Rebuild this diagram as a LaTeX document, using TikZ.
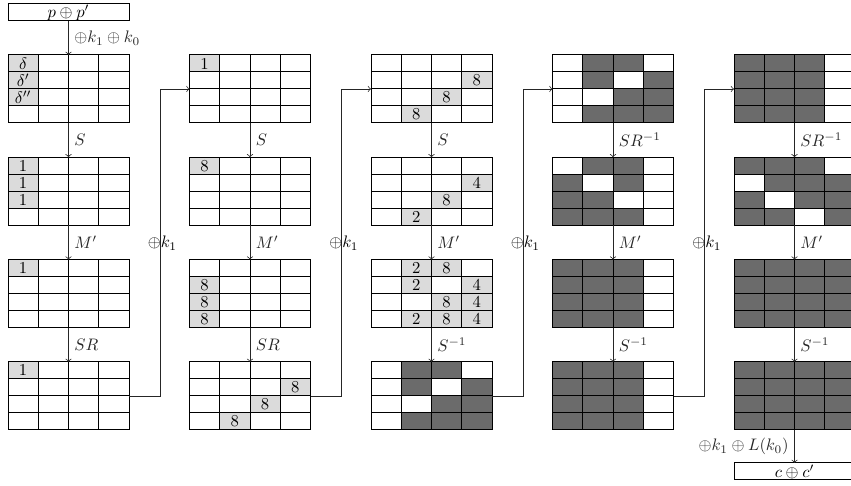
\documentclass[tikz,border=0pt]{standalone}
\usetikzlibrary{calc}
\tikzset{
  gridbox/.style={minimum width=72.6pt, minimum height=40.8pt, inner sep=0pt, outer sep=0pt},
  lcell/.style={fill=black!14, minimum width=18.15pt, minimum height=10.2pt, inner sep=0pt, outer sep=0pt},
  dcell/.style={fill=black!58},
  gline/.style={line width=0.6pt, black},
  conn/.style={->, line width=0.45pt, black!85},
  lab/.style={inner sep=3.3pt},
  klab/.style={inner sep=0pt, anchor=west},
  valbox/.style={draw, line width=0.6pt, minimum width=72.6pt, minimum height=10.2pt, inner sep=0pt, outer sep=0pt},
}
\newcommand{\lc}[4]{\node[lcell] (#1c#2#3) at ($(#1.north west)+(#3*30.25+15.125,#2*17+8.5)$) {#4};}
\newcommand{\dc}[3]{\fill[dcell] ($(#1.north west)+(#3*30.25,#2*17)$) rectangle ++(30.25,17);}
\newcommand{\glines}[1]{%
  \draw[gline] (#1.north west) rectangle (#1.south east);
  \foreach \i in {1,2,3}{%
    \draw[gline] ($(#1.north west)+(\i*30.25,0)$) -- ($(#1.south west)+(\i*30.25,0)$);
    \draw[gline] ($(#1.north west)+(0,\i*17)$) -- ($(#1.north east)+(0,\i*17)$);
  }}
\begin{document}
\begin{tikzpicture}[x=0.6pt, y=-0.6pt]
\useasboundingbox (0,0) rectangle (851,486);
\clip (0,0) rectangle (851,486);
% grid nodes
\foreach \c/\x in {1/68.5,2/250,3/431.5,4/613,5/794.5}{
  \foreach \r/\y in {1/89,2/191.3,3/293.6,4/395.9}{
    \node[gridbox] (g\c\r) at (\x,\y) {};
  }}
% light cells
\lc{g11}{0}{0}{$\delta$}
\lc{g11}{1}{0}{$\delta'$}
\lc{g11}{2}{0}{$\delta''$}
\lc{g12}{0}{0}{1}
\lc{g12}{1}{0}{1}
\lc{g12}{2}{0}{1}
\lc{g13}{0}{0}{1}
\lc{g14}{0}{0}{1}
\lc{g21}{0}{0}{1}
\lc{g22}{0}{0}{8}
\lc{g23}{1}{0}{8}
\lc{g23}{2}{0}{8}
\lc{g23}{3}{0}{8}
\lc{g24}{1}{3}{8}
\lc{g24}{2}{2}{8}
\lc{g24}{3}{1}{8}
\lc{g31}{1}{3}{8}
\lc{g31}{2}{2}{8}
\lc{g31}{3}{1}{8}
\lc{g32}{1}{3}{4}
\lc{g32}{2}{2}{8}
\lc{g32}{3}{1}{2}
\lc{g33}{0}{1}{2}
\lc{g33}{0}{2}{8}
\lc{g33}{1}{1}{2}
\lc{g33}{1}{3}{4}
\lc{g33}{2}{2}{8}
\lc{g33}{2}{3}{4}
\lc{g33}{3}{1}{2}
\lc{g33}{3}{2}{8}
\lc{g33}{3}{3}{4}
% dark cells
\foreach \g in {g34,g41}{
  \foreach \r/\c in {0/1,0/2,1/1,1/3,2/2,2/3,3/1,3/2,3/3}{\dc{\g}{\r}{\c}}}
\foreach \r/\c in {0/1,0/2,1/0,1/2,2/0,2/1,3/0,3/1,3/2}{\dc{g42}{\r}{\c}}
\foreach \g in {g43,g44,g51}{
  \foreach \r in {0,1,2,3}{\foreach \c in {0,1,2}{\dc{\g}{\r}{\c}}}}
\foreach \r/\c in {0/0,0/1,0/2,1/1,1/2,1/3,2/0,2/2,2/3,3/0,3/1,3/3}{\dc{g52}{\r}{\c}}
\foreach \g in {g53,g54}{
  \foreach \r in {0,1,2,3}{\foreach \c in {0,1,2,3}{\dc{\g}{\r}{\c}}}}
% grid lines
\foreach \c in {1,...,5}{\foreach \r in {1,...,4}{\glines{g\c\r}}}
% value boxes
\node[valbox] (pin) at (68.5,12.5) {$p \oplus p'$};
\node[valbox] (pout) at (794.5,471.5) {$c \oplus c'$};
% vertical arrows
\draw[conn] (pin.south) -- node[lab,right] {$\oplus k_1 \oplus k_0$} (g11.north);
\draw[conn] (g11.south) -- node[lab,right] {$S$} (g12.north);
\draw[conn] (g12.south) -- node[lab,right] {$M'$} (g13.north);
\draw[conn] (g13.south) -- node[lab,right] {$SR$} (g14.north);
\draw[conn] (g21.south) -- node[lab,right] {$S$} (g22.north);
\draw[conn] (g22.south) -- node[lab,right] {$M'$} (g23.north);
\draw[conn] (g23.south) -- node[lab,right] {$SR$} (g24.north);
\draw[conn] (g31.south) -- node[lab,right] {$S$} (g32.north);
\draw[conn] (g32.south) -- node[lab,right] {$M'$} (g33.north);
\draw[conn] (g33.south) -- node[lab,right] {$S^{-1}$} (g34.north);
\draw[conn] (g41.south) -- node[lab,right] {$SR^{-1}$} (g42.north);
\draw[conn] (g42.south) -- node[lab,right] {$M'$} (g43.north);
\draw[conn] (g43.south) -- node[lab,right] {$S^{-1}$} (g44.north);
\draw[conn] (g51.south) -- node[lab,right] {$SR^{-1}$} (g52.north);
\draw[conn] (g52.south) -- node[lab,right] {$M'$} (g53.north);
\draw[conn] (g53.south) -- node[lab,right] {$S^{-1}$} (g54.north);
\draw[conn] (g54.south) -- node[lab,left] {$\oplus k_1 \oplus L(k_0)$} (pout.north);
% round connectors
\draw[conn] (g14.east) -- ++(31,0) |- (g21.west);
\draw[conn] (g24.east) -- ++(31,0) |- (g31.west);
\draw[conn] (g34.east) -- ++(31,0) |- (g41.west);
\draw[conn] (g44.east) -- ++(31,0) |- (g51.west);
\node[klab] (ka) at (147.5,243) {$\oplus k_1$};
\node[klab] (kb) at (329,243) {$\oplus k_1$};
\node[klab] (kc) at (510.5,243) {$\oplus k_1$};
\node[klab] (kd) at (692,243) {$\oplus k_1$};
\end{tikzpicture}
\end{document}
